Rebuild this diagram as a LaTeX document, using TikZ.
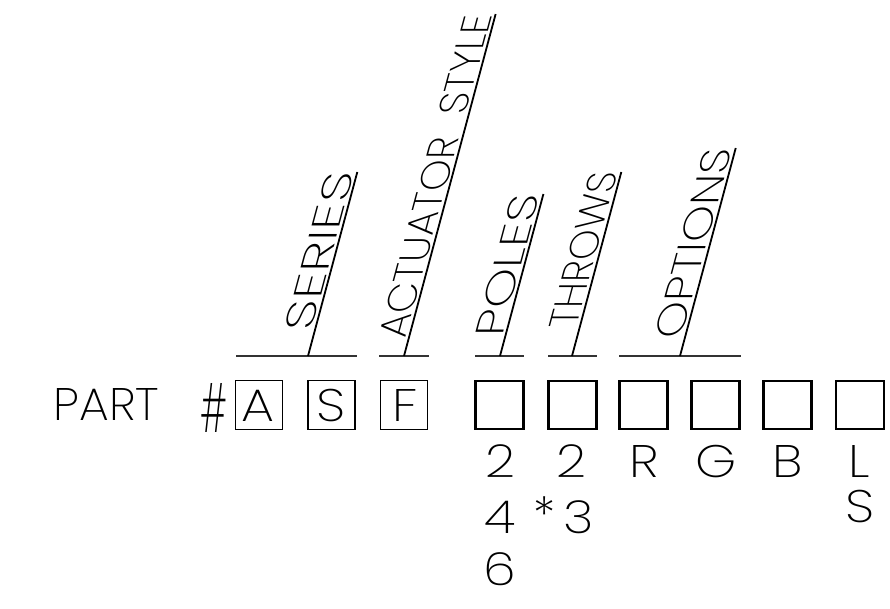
\documentclass[tikz,border=0pt]{standalone}
\usepackage{fontspec}
\usepackage{graphicx}
\usetikzlibrary{calc}
\newfontfamily\cad{Poppins ExtraLight}
\newcommand\cadbig{\fontsize{43pt}{43pt}\selectfont\cad}
\newcommand\wide[1]{\scalebox{1.22}[1.06]{#1}}
\tikzset{
  hline/.style={line width=2pt, black!80},
  sline/.style={line width=1.8pt, black},
  lbox/.style={draw, line width=1.4pt, minimum width=47pt, minimum height=49pt, inner sep=0pt},
  ebox/.style={draw, line width=2.3pt, minimum width=48pt, minimum height=48pt, inner sep=0pt},
  txt/.style={font=\cadbig, inner sep=0pt, anchor=base},
  lbl/.style={cm={0.2588,0.9659,-1,0,(0,0)}, inner sep=0pt, anchor=base east},
}
\begin{document}
\begin{tikzpicture}[x=1pt,y=1pt]
\useasboundingbox (0,0) rectangle (890,608);
% boxes
\node[lbox] (bA) at (259,203) {};
\node[lbox] (bS) at (331.5,203) {};
\node[lbox] (bF) at (404,203) {};
\node[ebox] (b1) at (499.5,203) {};
\node[ebox] (b2) at (572.5,203) {};
\node[ebox] (b3) at (643.5,203) {};
\node[ebox] (b4) at (715.5,203) {};
\node[ebox] (b5) at (787.5,203) {};
\node[ebox] (b6) at (860,203) {};
% box letters
\node[txt] (tA) at (258,187) {\wide{A}};
\node[txt] (tS) at (331,187) {\wide{S}};
\node[txt] (tF) at (405,187) {\wide{F}};
% part #
\node[txt] (part) at (106.5,188) {\scalebox{1.1}[1.06]{PART}};
\node[inner sep=0pt] (hash) at (213.5,200.5) {\resizebox*{27pt}{49pt}{\cad\#}};
% horizontal lines
\coordinate (h1a) at (236,252); \coordinate (h1b) at (357,252);
\coordinate (h2a) at (379,252); \coordinate (h2b) at (429,252);
\coordinate (h3a) at (475,252); \coordinate (h3b) at (524,252);
\coordinate (h4a) at (548,252); \coordinate (h4b) at (597,252);
\coordinate (h5a) at (619,252); \coordinate (h5b) at (741,252);
\draw[hline] (h1a) -- (h1b);
\draw[hline] (h2a) -- (h2b);
\draw[hline] (h3a) -- (h3b);
\draw[hline] (h4a) -- (h4b);
\draw[hline] (h5a) -- (h5b);
% slanted leaders
\coordinate (s1) at (308,252); \coordinate (e1) at ($(s1)+(75:190.5)$);
\coordinate (s2) at (404,252); \coordinate (e2) at ($(s2)+(75:354)$);
\coordinate (s3) at (500,252); \coordinate (e3) at ($(s3)+(75:167.7)$);
\coordinate (s4) at (572,252); \coordinate (e4) at ($(s4)+(75:190.5)$);
\coordinate (s5) at (680,252); \coordinate (e5) at ($(s5)+(75:215.3)$);
\draw[sline] (s1) -- (e1);
\draw[sline] (s2) -- (e2);
\draw[sline] (s3) -- (e3);
\draw[sline] (s4) -- (e4);
\draw[sline] (s5) -- (e5);
% labels
\node[lbl] (lSeries) at ([xshift=-3pt]e1) {\resizebox{164pt}{28pt}{\cad SERIES}};
\node[lbl] (lAct) at ([xshift=-3pt]e2) {\resizebox{336pt}{28pt}{\cad ACTUATOR\ \ STYLE}};
\node[lbl] (lPoles) at ([xshift=-3pt]e3) {\resizebox{147pt}{28pt}{\cad POLES}};
\node[lbl] (lThrows) at ([xshift=-3pt]e4) {\resizebox{161pt}{28pt}{\cad THROWS}};
\node[lbl] (lOpt) at ([xshift=-3pt]e5) {\resizebox{197pt}{28pt}{\cad OPTIONS}};
% choices below
\node[txt] (p2) at (500,131) {\wide{2}};
\node[txt] (p4) at (500,75) {\wide{4}};
\node[txt] (p6) at (500,23) {\wide{6}};
\node[txt] (t2) at (571.5,131) {\wide{2}};
\node[inner sep=0pt] (tstar) at (544,93) {\resizebox{22pt}{!}{\cad *}};
\node[txt] (t3) at (578.5,75) {\wide{3}};
\node[txt] (oR) at (644,131) {\wide{R}};
\node[txt] (oG) at (716,131) {\wide{G}};
\node[txt] (oB) at (787.5,131) {\wide{B}};
\node[txt] (oL) at (859,131) {\wide{L}};
\node[txt] (oS) at (860,86) {\wide{S}};
\end{tikzpicture}
\end{document}
